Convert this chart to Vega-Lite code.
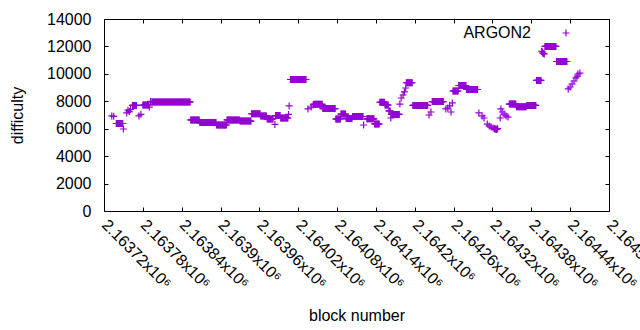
{
"$schema": "https://vega.github.io/schema/vega-lite/v6.json",
"width": 505, "height": 192,
"autosize": {"type": "none"},
"padding": {"left": 104, "top": 19, "right": 31, "bottom": 119},
"background": "white",
"config": {"view": {"stroke": null}, "font": "Liberation Sans"},
"data": {"values": [
{"block":2163732,"difficulty":6930},{"block":2163735,"difficulty":6900},
{"block":2163739,"difficulty":6380},{"block":2163740,"difficulty":6380},{"block":2163741,"difficulty":6380},{"block":2163742,"difficulty":6380},{"block":2163743,"difficulty":6380},{"block":2163744,"difficulty":6380},{"block":2163745,"difficulty":6380},{"block":2163746,"difficulty":6380},{"block":2163747,"difficulty":6380},{"block":2163748,"difficulty":6380},{"block":2163749,"difficulty":6380},{"block":2163750,"difficulty":5980},
{"block":2163755,"difficulty":7150},{"block":2163757,"difficulty":7350},{"block":2163759,"difficulty":7250},{"block":2163761,"difficulty":7400},
{"block":2163764,"difficulty":7700},{"block":2163765,"difficulty":7700},{"block":2163766,"difficulty":7700},{"block":2163767,"difficulty":7700},{"block":2163768,"difficulty":7700},{"block":2163769,"difficulty":7700},{"block":2163770,"difficulty":7700},
{"block":2163774,"difficulty":6930},{"block":2163777,"difficulty":7050},
{"block":2163780,"difficulty":7730},{"block":2163781,"difficulty":7730},{"block":2163782,"difficulty":7730},{"block":2163783,"difficulty":7730},{"block":2163784,"difficulty":7730},{"block":2163785,"difficulty":7730},{"block":2163786,"difficulty":7730},{"block":2163787,"difficulty":7730},{"block":2163788,"difficulty":7730},{"block":2163789,"difficulty":7730},{"block":2163790,"difficulty":7580},{"block":2163792,"difficulty":7990},
{"block":2163794,"difficulty":7950},{"block":2163795,"difficulty":7950},{"block":2163796,"difficulty":7950},{"block":2163797,"difficulty":7950},{"block":2163798,"difficulty":7950},{"block":2163799,"difficulty":7950},{"block":2163800,"difficulty":7950},{"block":2163801,"difficulty":7950},{"block":2163802,"difficulty":7950},{"block":2163803,"difficulty":7950},{"block":2163804,"difficulty":7950},{"block":2163805,"difficulty":7950},{"block":2163806,"difficulty":7950},{"block":2163807,"difficulty":7950},{"block":2163808,"difficulty":7950},{"block":2163809,"difficulty":7950},{"block":2163810,"difficulty":7950},{"block":2163811,"difficulty":7950},{"block":2163812,"difficulty":7950},{"block":2163813,"difficulty":7950},{"block":2163814,"difficulty":7950},{"block":2163815,"difficulty":7950},{"block":2163816,"difficulty":7950},{"block":2163817,"difficulty":7950},{"block":2163818,"difficulty":7950},{"block":2163819,"difficulty":7950},{"block":2163820,"difficulty":7950},{"block":2163821,"difficulty":7950},{"block":2163822,"difficulty":7950},{"block":2163823,"difficulty":7950},{"block":2163824,"difficulty":7950},{"block":2163825,"difficulty":7950},{"block":2163826,"difficulty":7950},{"block":2163827,"difficulty":7950},{"block":2163828,"difficulty":7950},{"block":2163829,"difficulty":7950},{"block":2163830,"difficulty":7950},{"block":2163831,"difficulty":7950},{"block":2163832,"difficulty":7950},{"block":2163833,"difficulty":7950},{"block":2163834,"difficulty":7950},{"block":2163835,"difficulty":7950},{"block":2163836,"difficulty":7950},{"block":2163837,"difficulty":7950},{"block":2163838,"difficulty":7950},{"block":2163839,"difficulty":7950},{"block":2163840,"difficulty":7950},{"block":2163841,"difficulty":7950},{"block":2163842,"difficulty":7950},{"block":2163843,"difficulty":7950},{"block":2163844,"difficulty":7950},{"block":2163845,"difficulty":7950},{"block":2163846,"difficulty":7950},{"block":2163847,"difficulty":7950},{"block":2163848,"difficulty":7950},{"block":2163849,"difficulty":7950},{"block":2163850,"difficulty":7950},{"block":2163851,"difficulty":7950},{"block":2163852,"difficulty":7950},{"block":2163853,"difficulty":7950},
{"block":2163854,"difficulty":6640},{"block":2163855,"difficulty":6640},{"block":2163856,"difficulty":6640},{"block":2163857,"difficulty":6640},{"block":2163858,"difficulty":6640},{"block":2163859,"difficulty":6640},{"block":2163860,"difficulty":6640},{"block":2163861,"difficulty":6640},{"block":2163862,"difficulty":6640},{"block":2163863,"difficulty":6640},{"block":2163864,"difficulty":6640},{"block":2163865,"difficulty":6640},{"block":2163866,"difficulty":6640},{"block":2163867,"difficulty":6640},
{"block":2163868,"difficulty":6450},{"block":2163869,"difficulty":6450},{"block":2163870,"difficulty":6450},{"block":2163871,"difficulty":6450},{"block":2163872,"difficulty":6450},{"block":2163873,"difficulty":6450},{"block":2163874,"difficulty":6450},{"block":2163875,"difficulty":6450},{"block":2163876,"difficulty":6450},{"block":2163877,"difficulty":6450},{"block":2163878,"difficulty":6450},{"block":2163879,"difficulty":6450},{"block":2163880,"difficulty":6450},{"block":2163881,"difficulty":6450},{"block":2163882,"difficulty":6450},{"block":2163883,"difficulty":6450},{"block":2163884,"difficulty":6450},{"block":2163885,"difficulty":6450},{"block":2163886,"difficulty":6450},{"block":2163887,"difficulty":6450},{"block":2163888,"difficulty":6450},{"block":2163889,"difficulty":6450},{"block":2163890,"difficulty":6450},{"block":2163891,"difficulty":6450},{"block":2163892,"difficulty":6450},{"block":2163893,"difficulty":6450},
{"block":2163894,"difficulty":6270},{"block":2163895,"difficulty":6270},{"block":2163896,"difficulty":6270},{"block":2163897,"difficulty":6270},{"block":2163898,"difficulty":6270},{"block":2163899,"difficulty":6270},{"block":2163900,"difficulty":6270},{"block":2163901,"difficulty":6270},{"block":2163902,"difficulty":6270},{"block":2163903,"difficulty":6270},{"block":2163904,"difficulty":6270},{"block":2163905,"difficulty":6270},{"block":2163906,"difficulty":6270},{"block":2163907,"difficulty":6270},{"block":2163908,"difficulty":6270},{"block":2163909,"difficulty":6270},
{"block":2163910,"difficulty":6640},{"block":2163911,"difficulty":6640},{"block":2163912,"difficulty":6640},{"block":2163913,"difficulty":6640},{"block":2163914,"difficulty":6640},{"block":2163915,"difficulty":6640},{"block":2163916,"difficulty":6640},{"block":2163917,"difficulty":6640},{"block":2163918,"difficulty":6640},{"block":2163919,"difficulty":6640},{"block":2163920,"difficulty":6640},{"block":2163921,"difficulty":6640},{"block":2163922,"difficulty":6640},{"block":2163923,"difficulty":6640},{"block":2163924,"difficulty":6640},{"block":2163925,"difficulty":6640},{"block":2163926,"difficulty":6640},{"block":2163927,"difficulty":6640},{"block":2163928,"difficulty":6640},{"block":2163929,"difficulty":6640},
{"block":2163930,"difficulty":6560},{"block":2163931,"difficulty":6560},{"block":2163932,"difficulty":6560},{"block":2163933,"difficulty":6560},{"block":2163934,"difficulty":6560},{"block":2163935,"difficulty":6560},{"block":2163936,"difficulty":6560},{"block":2163937,"difficulty":6560},{"block":2163938,"difficulty":6560},{"block":2163939,"difficulty":6560},{"block":2163940,"difficulty":6560},{"block":2163941,"difficulty":6560},{"block":2163942,"difficulty":6560},{"block":2163943,"difficulty":6560},{"block":2163944,"difficulty":6560},{"block":2163945,"difficulty":6560},{"block":2163946,"difficulty":6560},{"block":2163947,"difficulty":6560},
{"block":2163948,"difficulty":7100},{"block":2163949,"difficulty":7100},{"block":2163950,"difficulty":7100},{"block":2163951,"difficulty":7100},{"block":2163952,"difficulty":7100},{"block":2163953,"difficulty":7100},{"block":2163954,"difficulty":7100},{"block":2163955,"difficulty":7100},{"block":2163956,"difficulty":7100},{"block":2163957,"difficulty":7100},{"block":2163958,"difficulty":7100},{"block":2163959,"difficulty":7100},{"block":2163960,"difficulty":7100},{"block":2163961,"difficulty":7100},
{"block":2163962,"difficulty":6930},{"block":2163963,"difficulty":6930},{"block":2163964,"difficulty":6930},{"block":2163965,"difficulty":6930},{"block":2163966,"difficulty":6930},{"block":2163967,"difficulty":6930},{"block":2163968,"difficulty":6930},{"block":2163969,"difficulty":6930},{"block":2163970,"difficulty":6930},{"block":2163971,"difficulty":6930},
{"block":2163972,"difficulty":6710},{"block":2163973,"difficulty":6710},{"block":2163974,"difficulty":6710},{"block":2163975,"difficulty":6710},{"block":2163976,"difficulty":6710},{"block":2163977,"difficulty":6710},{"block":2163978,"difficulty":6710},{"block":2163979,"difficulty":6710},{"block":2163980,"difficulty":6710},{"block":2163981,"difficulty":6710},
{"block":2163984,"difficulty":6310},
{"block":2163985,"difficulty":6960},{"block":2163986,"difficulty":6960},{"block":2163987,"difficulty":6960},{"block":2163988,"difficulty":6960},{"block":2163989,"difficulty":6960},{"block":2163990,"difficulty":6960},{"block":2163991,"difficulty":6960},{"block":2163992,"difficulty":6960},
{"block":2163993,"difficulty":6780},{"block":2163994,"difficulty":6780},{"block":2163995,"difficulty":6780},{"block":2163996,"difficulty":6780},{"block":2163997,"difficulty":6780},{"block":2163998,"difficulty":6780},{"block":2163999,"difficulty":6780},{"block":2164000,"difficulty":6780},{"block":2164001,"difficulty":6780},{"block":2164002,"difficulty":6780},{"block":2164003,"difficulty":6780},{"block":2164004,"difficulty":6780},
{"block":2164005,"difficulty":7040},{"block":2164006,"difficulty":7660},
{"block":2164008,"difficulty":9590},{"block":2164009,"difficulty":9590},{"block":2164010,"difficulty":9590},{"block":2164011,"difficulty":9590},{"block":2164012,"difficulty":9590},{"block":2164013,"difficulty":9590},{"block":2164014,"difficulty":9590},{"block":2164015,"difficulty":9590},{"block":2164016,"difficulty":9590},{"block":2164017,"difficulty":9590},{"block":2164018,"difficulty":9590},{"block":2164019,"difficulty":9590},{"block":2164020,"difficulty":9590},{"block":2164021,"difficulty":9590},{"block":2164022,"difficulty":9590},{"block":2164023,"difficulty":9590},{"block":2164024,"difficulty":9590},{"block":2164025,"difficulty":9590},{"block":2164026,"difficulty":9590},{"block":2164027,"difficulty":9590},{"block":2164028,"difficulty":9590},{"block":2164029,"difficulty":9590},{"block":2164030,"difficulty":9590},{"block":2164031,"difficulty":9590},{"block":2164032,"difficulty":9590},
{"block":2164035,"difficulty":7440},{"block":2164040,"difficulty":7580},{"block":2164043,"difficulty":7730},
{"block":2164044,"difficulty":7780},{"block":2164045,"difficulty":7780},{"block":2164046,"difficulty":7780},{"block":2164047,"difficulty":7780},{"block":2164048,"difficulty":7780},{"block":2164049,"difficulty":7780},{"block":2164050,"difficulty":7780},{"block":2164051,"difficulty":7780},{"block":2164052,"difficulty":7780},{"block":2164053,"difficulty":7780},{"block":2164054,"difficulty":7780},{"block":2164055,"difficulty":7780},{"block":2164056,"difficulty":7780},{"block":2164057,"difficulty":7780},
{"block":2164058,"difficulty":7470},{"block":2164059,"difficulty":7470},{"block":2164060,"difficulty":7470},{"block":2164061,"difficulty":7470},{"block":2164062,"difficulty":7470},{"block":2164063,"difficulty":7470},{"block":2164064,"difficulty":7470},{"block":2164065,"difficulty":7470},{"block":2164066,"difficulty":7470},{"block":2164067,"difficulty":7470},{"block":2164068,"difficulty":7470},{"block":2164069,"difficulty":7470},{"block":2164070,"difficulty":7470},{"block":2164071,"difficulty":7470},{"block":2164072,"difficulty":7470},{"block":2164073,"difficulty":7470},{"block":2164074,"difficulty":7470},{"block":2164075,"difficulty":7470},{"block":2164076,"difficulty":7470},{"block":2164077,"difficulty":7470},
{"block":2164078,"difficulty":6710},{"block":2164079,"difficulty":6710},{"block":2164080,"difficulty":6710},{"block":2164081,"difficulty":6710},{"block":2164082,"difficulty":6710},{"block":2164083,"difficulty":6710},{"block":2164084,"difficulty":6710},{"block":2164085,"difficulty":6710},
{"block":2164086,"difficulty":7070},{"block":2164087,"difficulty":7070},{"block":2164088,"difficulty":7070},{"block":2164089,"difficulty":7070},{"block":2164090,"difficulty":7070},{"block":2164091,"difficulty":7070},{"block":2164092,"difficulty":7070},{"block":2164093,"difficulty":7070},
{"block":2164094,"difficulty":6740},{"block":2164095,"difficulty":6740},{"block":2164096,"difficulty":6740},{"block":2164097,"difficulty":6740},{"block":2164098,"difficulty":6740},{"block":2164099,"difficulty":6740},{"block":2164100,"difficulty":6740},{"block":2164101,"difficulty":6740},{"block":2164102,"difficulty":6740},{"block":2164103,"difficulty":6740},
{"block":2164104,"difficulty":6890},{"block":2164105,"difficulty":6890},{"block":2164106,"difficulty":6890},{"block":2164107,"difficulty":6890},{"block":2164108,"difficulty":6890},{"block":2164109,"difficulty":6890},{"block":2164110,"difficulty":6890},{"block":2164111,"difficulty":6890},{"block":2164112,"difficulty":6890},{"block":2164113,"difficulty":6890},{"block":2164114,"difficulty":6890},{"block":2164115,"difficulty":6890},{"block":2164116,"difficulty":6890},{"block":2164117,"difficulty":6890},{"block":2164118,"difficulty":6890},{"block":2164119,"difficulty":6890},{"block":2164120,"difficulty":6890},
{"block":2164121,"difficulty":6270},
{"block":2164126,"difficulty":6720},{"block":2164127,"difficulty":6720},{"block":2164128,"difficulty":6720},{"block":2164129,"difficulty":6720},{"block":2164130,"difficulty":6720},{"block":2164131,"difficulty":6720},{"block":2164132,"difficulty":6720},{"block":2164133,"difficulty":6720},{"block":2164134,"difficulty":6720},{"block":2164135,"difficulty":6720},{"block":2164136,"difficulty":6720},{"block":2164137,"difficulty":6720},
{"block":2164138,"difficulty":6350},{"block":2164139,"difficulty":6350},{"block":2164140,"difficulty":6350},{"block":2164141,"difficulty":6350},{"block":2164142,"difficulty":6350},{"block":2164143,"difficulty":6350},{"block":2164144,"difficulty":6350},{"block":2164145,"difficulty":6350},
{"block":2164146,"difficulty":7930},{"block":2164147,"difficulty":7930},{"block":2164148,"difficulty":7930},{"block":2164149,"difficulty":7930},{"block":2164150,"difficulty":7930},{"block":2164151,"difficulty":7930},{"block":2164152,"difficulty":7930},{"block":2164153,"difficulty":7930},
{"block":2164154,"difficulty":7730},{"block":2164155,"difficulty":7730},{"block":2164156,"difficulty":7730},{"block":2164157,"difficulty":7730},{"block":2164158,"difficulty":7730},{"block":2164159,"difficulty":7730},
{"block":2164160,"difficulty":7300},{"block":2164161,"difficulty":7300},{"block":2164162,"difficulty":7300},{"block":2164163,"difficulty":6780},
{"block":2164164,"difficulty":7040},{"block":2164165,"difficulty":7040},{"block":2164166,"difficulty":7040},{"block":2164167,"difficulty":7040},{"block":2164168,"difficulty":7040},{"block":2164169,"difficulty":7040},{"block":2164170,"difficulty":7040},{"block":2164171,"difficulty":7040},{"block":2164172,"difficulty":7040},{"block":2164173,"difficulty":7040},{"block":2164174,"difficulty":7040},{"block":2164175,"difficulty":7040},{"block":2164176,"difficulty":7040},
{"block":2164177,"difficulty":7800},{"block":2164179,"difficulty":8240},{"block":2164182,"difficulty":8460},{"block":2164184,"difficulty":8680},{"block":2164186,"difficulty":8970},
{"block":2164187,"difficulty":9350},{"block":2164188,"difficulty":9350},{"block":2164189,"difficulty":9350},{"block":2164190,"difficulty":9350},{"block":2164191,"difficulty":9350},{"block":2164192,"difficulty":9350},{"block":2164193,"difficulty":9350},{"block":2164194,"difficulty":9350},{"block":2164195,"difficulty":9350},{"block":2164196,"difficulty":9350},
{"block":2164197,"difficulty":7700},{"block":2164198,"difficulty":7700},{"block":2164199,"difficulty":7700},{"block":2164200,"difficulty":7700},{"block":2164201,"difficulty":7700},{"block":2164202,"difficulty":7700},{"block":2164203,"difficulty":7700},{"block":2164204,"difficulty":7700},{"block":2164205,"difficulty":7700},{"block":2164206,"difficulty":7700},{"block":2164207,"difficulty":7700},{"block":2164208,"difficulty":7700},{"block":2164209,"difficulty":7700},{"block":2164210,"difficulty":7700},{"block":2164211,"difficulty":7700},{"block":2164212,"difficulty":7700},{"block":2164213,"difficulty":7700},{"block":2164214,"difficulty":7700},{"block":2164215,"difficulty":7700},{"block":2164216,"difficulty":7700},{"block":2164217,"difficulty":7700},{"block":2164218,"difficulty":7700},{"block":2164219,"difficulty":7700},{"block":2164220,"difficulty":7700},
{"block":2164222,"difficulty":7000},{"block":2164225,"difficulty":7220},
{"block":2164227,"difficulty":7980},{"block":2164228,"difficulty":7980},{"block":2164229,"difficulty":7980},{"block":2164230,"difficulty":7980},{"block":2164231,"difficulty":7980},{"block":2164232,"difficulty":7980},{"block":2164233,"difficulty":7980},{"block":2164234,"difficulty":7980},{"block":2164235,"difficulty":7980},{"block":2164236,"difficulty":7980},{"block":2164237,"difficulty":7980},{"block":2164238,"difficulty":7980},{"block":2164239,"difficulty":7980},{"block":2164240,"difficulty":7980},{"block":2164241,"difficulty":7980},{"block":2164242,"difficulty":7980},{"block":2164243,"difficulty":7980},{"block":2164244,"difficulty":7980},
{"block":2164248,"difficulty":7440},{"block":2164251,"difficulty":7510},{"block":2164254,"difficulty":7660},{"block":2164256,"difficulty":7220},{"block":2164258,"difficulty":7880},
{"block":2164259,"difficulty":8750},{"block":2164260,"difficulty":8750},{"block":2164261,"difficulty":8750},{"block":2164262,"difficulty":8750},{"block":2164263,"difficulty":8750},{"block":2164264,"difficulty":8750},{"block":2164265,"difficulty":8750},{"block":2164266,"difficulty":8750},{"block":2164267,"difficulty":8750},
{"block":2164268,"difficulty":9150},{"block":2164269,"difficulty":9150},{"block":2164270,"difficulty":9150},{"block":2164271,"difficulty":9150},{"block":2164272,"difficulty":9150},{"block":2164273,"difficulty":9150},{"block":2164274,"difficulty":9150},{"block":2164275,"difficulty":9150},{"block":2164276,"difficulty":9150},{"block":2164277,"difficulty":9150},{"block":2164278,"difficulty":9150},{"block":2164279,"difficulty":9150},
{"block":2164280,"difficulty":8860},{"block":2164281,"difficulty":8860},{"block":2164282,"difficulty":8860},{"block":2164283,"difficulty":8860},{"block":2164284,"difficulty":8860},{"block":2164285,"difficulty":8860},{"block":2164286,"difficulty":8860},{"block":2164287,"difficulty":8860},{"block":2164288,"difficulty":8860},{"block":2164289,"difficulty":8860},{"block":2164290,"difficulty":8860},{"block":2164291,"difficulty":8860},{"block":2164292,"difficulty":8860},{"block":2164293,"difficulty":8860},{"block":2164294,"difficulty":8860},{"block":2164295,"difficulty":8860},{"block":2164296,"difficulty":8860},{"block":2164297,"difficulty":8860},
{"block":2164299,"difficulty":7150},{"block":2164304,"difficulty":6930},{"block":2164307,"difficulty":6780},
{"block":2164312,"difficulty":6340},{"block":2164315,"difficulty":6200},{"block":2164318,"difficulty":6120},{"block":2164321,"difficulty":6050},{"block":2164323,"difficulty":5990},{"block":2164324,"difficulty":5980},{"block":2164325,"difficulty":5980},{"block":2164326,"difficulty":5950},{"block":2164327,"difficulty":5980},{"block":2164328,"difficulty":6000},
{"block":2164332,"difficulty":6780},{"block":2164333,"difficulty":7440},{"block":2164335,"difficulty":7220},
{"block":2164338,"difficulty":7070},{"block":2164341,"difficulty":6930},{"block":2164344,"difficulty":6850},
{"block":2164346,"difficulty":7800},{"block":2164347,"difficulty":7800},{"block":2164348,"difficulty":7800},{"block":2164349,"difficulty":7800},{"block":2164350,"difficulty":7800},{"block":2164351,"difficulty":7800},{"block":2164352,"difficulty":7800},{"block":2164353,"difficulty":7800},{"block":2164354,"difficulty":7800},{"block":2164355,"difficulty":7800},{"block":2164356,"difficulty":7800},
{"block":2164357,"difficulty":7600},{"block":2164358,"difficulty":7600},{"block":2164359,"difficulty":7600},{"block":2164360,"difficulty":7600},{"block":2164361,"difficulty":7600},{"block":2164362,"difficulty":7600},{"block":2164363,"difficulty":7600},{"block":2164364,"difficulty":7600},{"block":2164365,"difficulty":7600},{"block":2164366,"difficulty":7600},{"block":2164367,"difficulty":7600},{"block":2164368,"difficulty":7600},{"block":2164369,"difficulty":7600},{"block":2164370,"difficulty":7600},{"block":2164371,"difficulty":7600},{"block":2164372,"difficulty":7600},
{"block":2164373,"difficulty":7700},{"block":2164374,"difficulty":7700},{"block":2164375,"difficulty":7700},{"block":2164376,"difficulty":7700},{"block":2164377,"difficulty":7700},{"block":2164378,"difficulty":7700},{"block":2164379,"difficulty":7700},{"block":2164380,"difficulty":7700},{"block":2164381,"difficulty":7700},{"block":2164382,"difficulty":7700},{"block":2164383,"difficulty":7700},{"block":2164384,"difficulty":7700},{"block":2164385,"difficulty":7700},{"block":2164386,"difficulty":7700},{"block":2164387,"difficulty":7700},
{"block":2164388,"difficulty":9520},{"block":2164389,"difficulty":9520},{"block":2164390,"difficulty":9520},{"block":2164391,"difficulty":9520},{"block":2164392,"difficulty":9520},{"block":2164393,"difficulty":9520},{"block":2164394,"difficulty":9520},{"block":2164395,"difficulty":9520},
{"block":2164396,"difficulty":11650},{"block":2164397,"difficulty":11600},{"block":2164398,"difficulty":11500},{"block":2164399,"difficulty":11480},{"block":2164400,"difficulty":11450},
{"block":2164401,"difficulty":12000},{"block":2164402,"difficulty":12000},{"block":2164403,"difficulty":12000},{"block":2164404,"difficulty":12000},{"block":2164405,"difficulty":12000},{"block":2164406,"difficulty":12000},{"block":2164407,"difficulty":12000},{"block":2164408,"difficulty":12000},{"block":2164409,"difficulty":12000},{"block":2164410,"difficulty":12000},{"block":2164411,"difficulty":12000},{"block":2164412,"difficulty":12000},{"block":2164413,"difficulty":12000},{"block":2164414,"difficulty":12000},{"block":2164415,"difficulty":12000},{"block":2164416,"difficulty":12000},{"block":2164417,"difficulty":12000},{"block":2164418,"difficulty":12000},
{"block":2164419,"difficulty":10900},{"block":2164420,"difficulty":10900},{"block":2164421,"difficulty":10900},{"block":2164422,"difficulty":10900},{"block":2164423,"difficulty":10900},{"block":2164424,"difficulty":10900},{"block":2164425,"difficulty":10900},{"block":2164426,"difficulty":10900},{"block":2164427,"difficulty":10900},{"block":2164428,"difficulty":10900},{"block":2164429,"difficulty":10900},{"block":2164430,"difficulty":10900},{"block":2164431,"difficulty":10900},{"block":2164432,"difficulty":10900},{"block":2164433,"difficulty":10900},{"block":2164434,"difficulty":10900},{"block":2164435,"difficulty":10900},
{"block":2164437,"difficulty":8900},{"block":2164440,"difficulty":9040},{"block":2164443,"difficulty":9260},{"block":2164446,"difficulty":9480},{"block":2164449,"difficulty":9700},{"block":2164451,"difficulty":9840},{"block":2164452,"difficulty":9990},{"block":2164455,"difficulty":10060}
]},
"layer": [
{
"mark": {"type": "point", "shape": "M-1,0L1,0M0,-1L0,1", "size": 49, "filled": false, "strokeWidth": 1.2, "opacity": 1},
"encoding": {
"x": {"field": "block", "type": "quantitative",
 "scale": {"domain": [2163720, 2164500], "nice": false, "zero": false},
 "axis": {"orient": "bottom", "values": [2163720,2163780,2163840,2163900,2163960,2164020,2164080,2164140,2164200,2164260,2164320,2164380,2164440,2164500],
  "labelExpr": "format(datum.value / 1000000, '.6~g') + 'x10⁶'",
  "labelAngle": 45, "labelAlign": "left", "labelBaseline": "middle", "labelPadding": 15,
  "labelFontSize": 16, "labelColor": "black", "labelOverlap": false, "labelBound": false, "labelFlush": false,
  "tickSize": -4, "tickColor": "black", "domainColor": "black", "grid": false,
  "title": "block number", "titleFontSize": 16, "titleFontWeight": "normal", "titleColor": "black",
  "titleY": 104, "titleBaseline": "middle"}},
"y": {"field": "difficulty", "type": "quantitative",
 "scale": {"domain": [0, 14000], "nice": false},
 "axis": {"orient": "left", "values": [0,2000,4000,6000,8000,10000,12000,14000], "format": "d",
  "labelFontSize": 16, "labelColor": "black", "labelPadding": 17,
  "tickSize": -4, "tickColor": "black", "domainColor": "black", "grid": false,
  "title": "difficulty", "titleFontSize": 16, "titleFontWeight": "normal", "titleColor": "black",
  "titleX": -87, "titleY": 96, "titleAngle": -90, "titleAlign": "center", "titleBaseline": "middle"}},
"color": {"datum": "ARGON2", "scale": {"range": ["#9400D3"]},
 "legend": {"title": null, "orient": "none", "legendX": 454, "legendY": 6, "padding": 0,
  "labelAlign": "right", "labelOffset": -43, "labelFontSize": 16, "labelColor": "black",
  "symbolType": "M-1,0L1,0M0,-1L0,1", "symbolSize": 49, "symbolStrokeWidth": 1.2, "symbolFillColor": "transparent", "symbolStrokeColor": "#9400D3"}}
}
},
{
"mark": {"type": "point", "opacity": 0},
"encoding": {
"x": {"field": "block", "type": "quantitative",
 "axis": {"orient": "top", "values": [2163720,2163780,2163840,2163900,2163960,2164020,2164080,2164140,2164200,2164260,2164320,2164380,2164440,2164500],
  "labels": false, "title": null, "tickSize": -4, "tickColor": "black", "domainColor": "black", "grid": false}},
"y": {"field": "difficulty", "type": "quantitative",
 "axis": {"orient": "right", "values": [0,2000,4000,6000,8000,10000,12000,14000],
  "labels": false, "title": null, "tickSize": -4, "tickColor": "black", "domainColor": "black", "grid": false}}
}
}
],
"resolve": {"axis": {"x": "independent", "y": "independent"}}
}
